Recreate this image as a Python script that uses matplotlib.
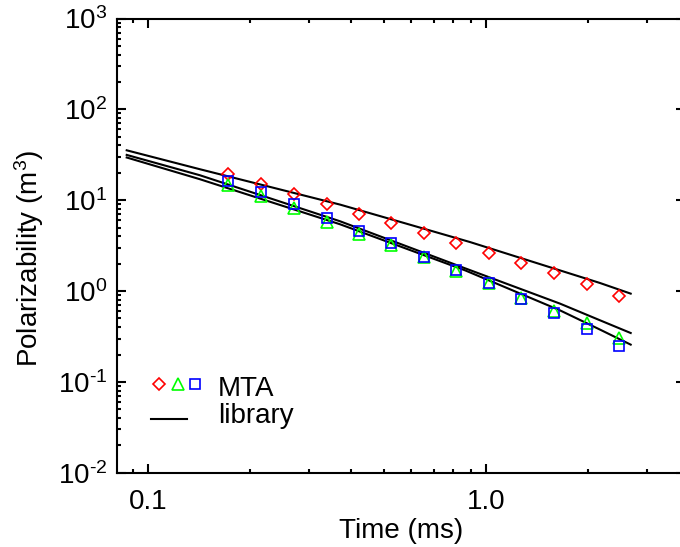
import matplotlib
matplotlib.use("Agg")
import matplotlib.pyplot as plt
import numpy as np
from matplotlib.ticker import FixedLocator, FixedFormatter, LogLocator, FuncFormatter, NullFormatter

plt.rcParams['font.family'] = ['Liberation Sans', 'DejaVu Sans']
plt.rcParams['mathtext.fontset'] = 'custom'
plt.rcParams['mathtext.rm'] = 'Liberation Sans'
plt.rcParams['mathtext.it'] = 'Liberation Sans:italic'
plt.rcParams['mathtext.bf'] = 'Liberation Sans:bold'
plt.rcParams['axes.unicode_minus'] = False

# ---- data ----
time_ms = [0.1725, 0.2156, 0.270, 0.338, 0.421, 0.5225, 0.654, 0.815, 1.019, 1.272, 1.589, 1.986, 2.48]
mta_red = [19.3, 14.9, 11.6, 9.0, 7.0, 5.6, 4.35, 3.41, 2.62, 2.03, 1.58, 1.19, 0.89]
mta_green = [14.6, 11.1, 8.15, 5.75, 4.21, 3.24, 2.35, 1.68, 1.24, 0.84, 0.60, 0.44, 0.307]
mta_blue = [16.3, 12.2, 9.0, 6.43, 4.58, 3.38, 2.37, 1.69, 1.21, 0.825, 0.573, 0.385, 0.25]

lib1_t = [0.0865, 0.1425, 0.2296, 0.370, 0.576, 0.897, 1.396, 2.175, 2.68]
lib1_y = [35.4, 21.9, 14.0, 8.94, 5.57, 3.46, 2.06, 1.225, 0.936]
lib2_t = [0.0865, 0.1425, 0.370, 0.867, 1.655, 2.175, 2.68]
lib2_y = [31.5, 18.8, 5.86, 1.78, 0.727, 0.476, 0.345]
lib3_t = [0.0865, 0.1425, 0.370, 0.867, 1.655, 2.175, 2.68]
lib3_y = [29.5, 17.0, 5.43, 1.69, 0.613, 0.376, 0.257]

x_ticks = [0.1, 1.0]
x_ticklabels = ["0.1", "1.0"]
legend_labels = ["MTA", "library"]

W, H = 680, 547
fig = plt.figure(figsize=(W / 100, H / 100), dpi=100)
left, right, top, bottom = 116.7, 685.0, 18.5, 472.7
ax = fig.add_axes([left / W, 1 - bottom / H, (right - left) / W, (bottom - top) / H])

lw_line = 1.5
for t, y in [(lib1_t, lib1_y), (lib2_t, lib2_y), (lib3_t, lib3_y)]:
    ax.plot(t, y, color='black', lw=lw_line, zorder=2)

mew = 1.2
ax.plot(time_ms, mta_red, ls='none', marker='D', ms=6.0, mfc='none', mec='#ff0000', mew=mew, zorder=3)
ax.plot(time_ms, mta_green, ls='none', marker='^', ms=8.0, mfc='none', mec='#00ff00', mew=mew, zorder=3)
ax.plot(time_ms, mta_blue, ls='none', marker='s', ms=6.5, mfc='none', mec='#0000ff', mew=mew, zorder=4)

ax.set_xscale('log')
ax.set_yscale('log')
ax.set_xlim(0.0808, 3.88)
ax.set_ylim(1e-2, 1e3)


def pow10_label(v, pos):
    e = int(round(np.log10(v)))
    return r'$\mathdefault{10^{\text{%d}}}$' % e


ax.xaxis.set_major_locator(FixedLocator(x_ticks))
ax.xaxis.set_major_formatter(FixedFormatter(x_ticklabels))
ax.xaxis.set_minor_locator(LogLocator(base=10, subs=range(2, 10), numticks=20))
ax.xaxis.set_minor_formatter(NullFormatter())
ax.yaxis.set_major_locator(LogLocator(base=10, numticks=20))
ax.yaxis.set_major_formatter(FuncFormatter(pow10_label))
ax.yaxis.set_minor_locator(LogLocator(base=10, subs=range(2, 10), numticks=20))
ax.yaxis.set_minor_formatter(NullFormatter())

fs = 20
ax.tick_params(which='both', direction='in', top=True, right=True, width=1.5, labelsize=fs)
ax.tick_params(which='major', length=6.5)
ax.tick_params(which='minor', length=3.2)
ax.tick_params(axis='x', which='major', pad=12)
ax.tick_params(axis='y', which='major', pad=7)
for s in ax.spines.values():
    s.set_linewidth(1.5)

ax.set_xlabel("Time (ms)", fontsize=fs, labelpad=2)
ax.set_ylabel("Polarizability (m$^3$)", fontsize=fs)
ax.yaxis.set_label_coords(-0.1244, 0.473)

# legend (drawn in axes fraction coordinates)
def axx(px):
    return (px - left) / (right - left)

def axy(py):
    return (bottom - py) / (bottom - top)

tr = ax.transAxes
ax.plot([axx(159.3)], [axy(384)], transform=tr, ls='none', marker='D', ms=6.0, mfc='none', mec='#ff0000', mew=mew, clip_on=False)
ax.plot([axx(178.3)], [axy(384)], transform=tr, ls='none', marker='^', ms=8.0, mfc='none', mec='#00ff00', mew=mew, clip_on=False)
ax.plot([axx(195)], [axy(384)], transform=tr, ls='none', marker='s', ms=6.5, mfc='none', mec='#0000ff', mew=mew, clip_on=False)
ax.plot([axx(151), axx(187)], [axy(419), axy(419)], transform=tr, color='black', lw=lw_line, clip_on=False)
ax.text(axx(218), axy(396), legend_labels[0], transform=tr, fontsize=fs, va='baseline', ha='left')
ax.text(axx(218), axy(423.3), legend_labels[1], transform=tr, fontsize=fs, va='baseline', ha='left')

fig.savefig("out.png", dpi=100)
